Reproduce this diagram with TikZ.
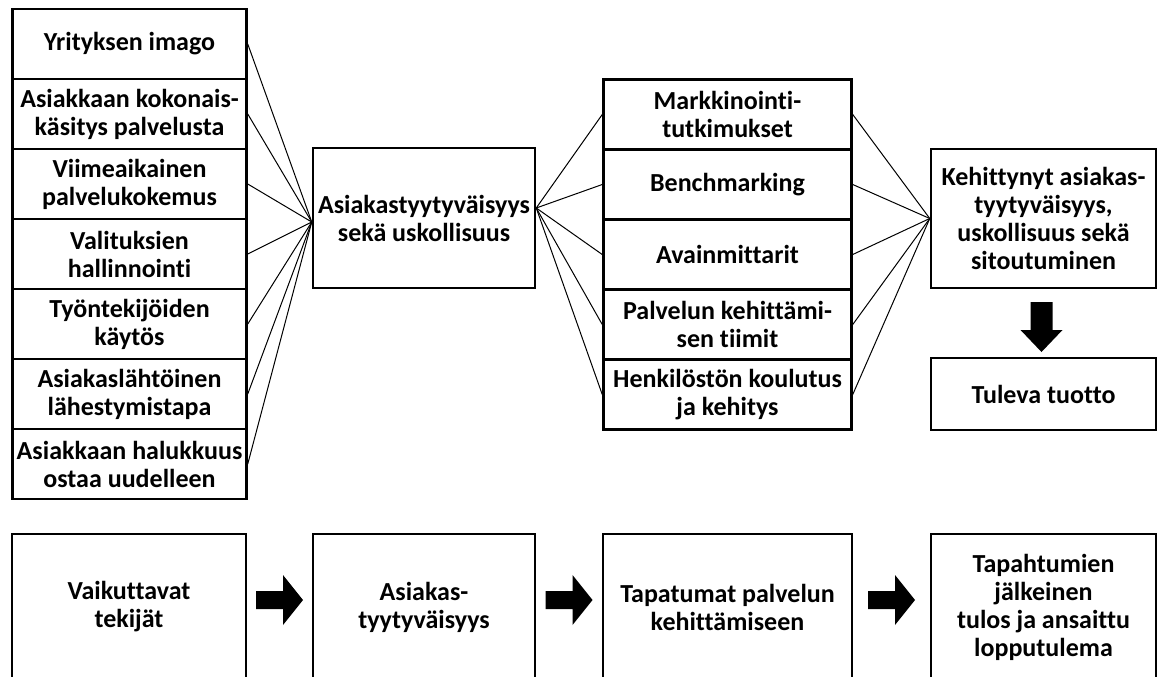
\documentclass[tikz,border=0pt]{standalone}
\usepackage{fontspec}
\setmainfont{Carlito}[Ligatures=NoCommon]
\usetikzlibrary{positioning, calc, matrix}

\begin{document}
\begin{tikzpicture}[
    x=1pt, y=-1pt,
    txt/.style={font=\bfseries\fontsize{26}{28}\selectfont, align=center},
    cell/.style={txt, draw, line width=2.5pt, minimum height=70pt, inner sep=0pt},
    box/.style={txt, draw, line width=2.5pt, inner sep=0pt},
    link/.style={line width=1pt},
    matrixstyle/.style={ampersand replacement=\&, row sep=-2.5pt, inner sep=0pt}
]
\useasboundingbox (0,0) rectangle (1160,677);

% Factors - left column
\matrix[matrixstyle, nodes={cell, minimum width=234pt}] (factors) at (129.5,254) {
 \node (f1) {Yrityksen imago}; \\
 \node (f2) {Asiakkaan kokonais-\\käsitys palvelusta}; \\
 \node (f3) {Viimeaikainen\\palvelukokemus}; \\
 \node (f4) {Valituksien\\hallinnointi}; \\
 \node (f5) {Työntekijöiden\\käytös}; \\
 \node (f6) {Asiakaslähtöinen\\lähestymistapa}; \\
 \node (f7) {Asiakkaan halukkuus\\ostaa uudelleen}; \\
};

% Satisfaction
\node[box, minimum width=222pt, minimum height=140pt] (sat) at (424,218) {Asiakastyytyväisyys\\sekä uskollisuus};
\coordinate (satL) at ($(sat.west)+(0,4)$);
\coordinate (satR) at ($(sat.east)+(0,-10)$);

% Methods - middle column
\matrix[matrixstyle, nodes={cell, minimum width=248pt}] (methods) at (727.5,254.5) {
 \node (m1) {Markkinointi-\\tutkimukset}; \\
 \node (m2) {Benchmarking}; \\
 \node (m3) {Avainmittarit}; \\
 \node (m4) {Palvelun kehittämi-\\sen tiimit}; \\
 \node (m5) {Henkilöstön koulutus\\ja kehitys}; \\
};

% Outcome
\node[box, minimum width=225pt, minimum height=139pt] (adv) at (1043.5,218.5) {Kehittynyt asiakas-\\tyytyväisyys,\\uskollisuus sekä\\sitoutuminen};
\node[box, minimum width=225pt, minimum height=72pt, below=67.5pt of adv] (rev) {Tuleva tuotto};

% Connectors
\foreach \i in {1,...,7}
  \draw[link] (f\i.east) -- (satL);
\foreach \i in {1,...,5} {
  \draw[link] (satR) -- (m\i.west);
  \draw[link] (m\i.east) -- (adv.west);
}
\fill ($(adv.south)!0.5!(rev.north)+(-2,4)$) ++(-11,-25) -- ++(22,0) -- ++(0,28) -- ++(10,0) -- ++(-21,22) -- ++(-21,-22) -- ++(10,0) -- cycle;

% Stages - bottom row
\node[box, minimum width=234pt, minimum height=146pt] (stage1) at (129,607) {Vaikuttavat\\tekijät};
\node[box, minimum width=222pt, minimum height=146pt] (stage2) at (424,607) {Asiakas-\\tyytyväisyys};
\node[box, minimum width=249pt, minimum height=146pt] (stage3) at (727.5,607) {Tapatumat palvelun\\kehittämiseen};
\node[box, minimum width=225pt, minimum height=146pt] (stage4) at (1043.5,607) {Tapahtumien\\jälkeinen\\tulos ja ansaittu\\lopputulema};
\foreach \a/\b in {stage1/stage2, stage2/stage3, stage3/stage4}
  \fill ($(\a.east)!0.5!(\b.west)+(0,-7)$) ++(-23.5,-9) -- ++(27,0) -- ++(0,-16) -- ++(20,25) -- ++(-20,25) -- ++(0,-16) -- ++(-27,0) -- cycle;
\end{tikzpicture}
\end{document}
